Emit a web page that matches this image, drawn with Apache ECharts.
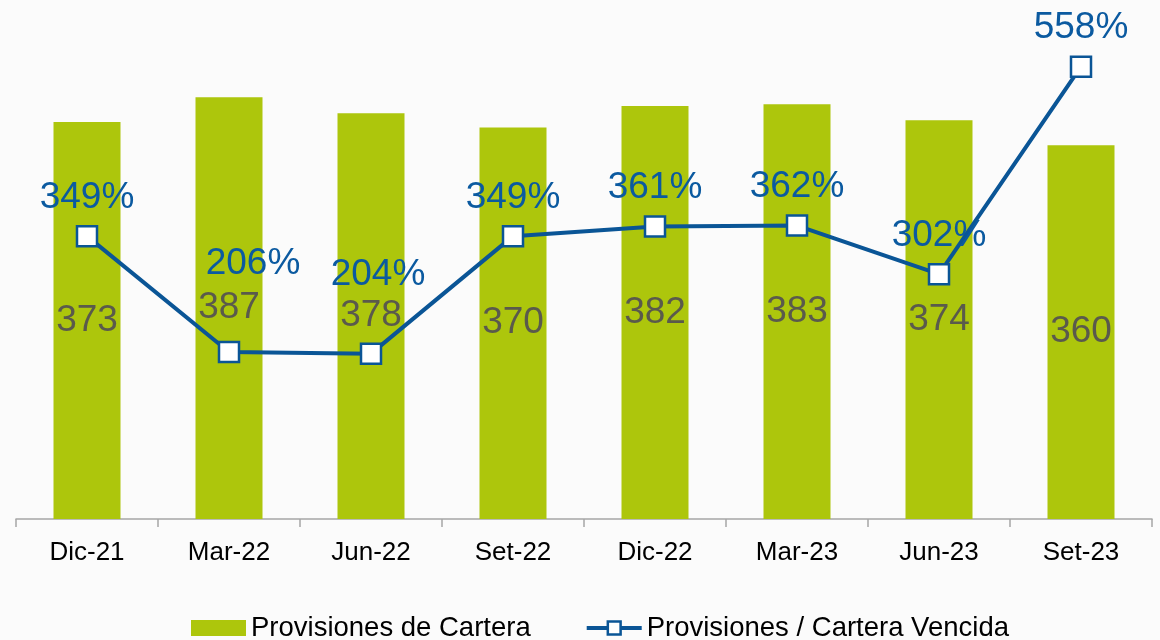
<!DOCTYPE html>
<html>
<head>
<meta charset="utf-8">
<script src="https://cdn.jsdelivr.net/npm/echarts@6/dist/echarts.min.js"></script>
<style>
  html, body { margin: 0; padding: 0; background: #fbfbfb; }
  #chart { width: 1160px; height: 640px; }
</style>
</head>
<body>
<div id="chart"></div>
<script>
// Provisiones de cartera y cobertura de cartera vencida
var categories = ['Dic-21', 'Mar-22', 'Jun-22', 'Set-22', 'Dic-22', 'Mar-23', 'Jun-23', 'Set-23'];
var provisiones = [373, 387, 378, 370, 382, 383, 374, 360];
var cobertura = [349, 206, 204, 349, 361, 362, 302, 558];

// two labels are moved up so they clear the bar labels
var labelShift = { 1: [24, -49], 2: [7, -40] };

var myChart = echarts.init(document.getElementById('chart'));
var fontFamily = '"Liberation Sans", Arial, sans-serif';

var option = {
  backgroundColor: '#fbfbfb',
  animation: false,
  grid: { left: 16, right: 8, top: 10, bottom: 121 },
  legend: {
    top: 609,
    left: 186,
    itemWidth: 55,
    itemHeight: 16,
    itemGap: 54,
    textStyle: { fontSize: 27.5, color: '#000', fontFamily: fontFamily },
    data: [
      { name: 'Provisiones de Cartera', icon: 'rect' },
      { name: 'Provisiones / Cartera Vencida', lineStyle: { width: 4 }, itemStyle: { borderWidth: 2.5 } }
    ]
  },
  xAxis: {
    type: 'category',
    data: categories,
    axisLine: { lineStyle: { color: '#a6a6a6', width: 1.5 } },
    axisTick: { show: true, alignWithLabel: false, length: 8, lineStyle: { color: '#a6a6a6', width: 1.5 } },
    axisLabel: { fontSize: 26, color: '#000', margin: 21, fontFamily: fontFamily }
  },
  yAxis: [
    { type: 'value', min: 150, max: 436, show: false, splitLine: { show: false } },
    { type: 'value', min: 0, max: 628, show: false, splitLine: { show: false } }
  ],
  series: [
    {
      name: 'Provisiones de Cartera',
      type: 'bar',
      yAxisIndex: 0,
      barWidth: 67,
      itemStyle: { color: '#adc60c' },
      label: {
        show: true,
        position: 'inside',
        fontSize: 37,
        color: '#5a5a4c',
        fontFamily: fontFamily
      },
      data: provisiones
    },
    {
      name: 'Provisiones / Cartera Vencida',
      type: 'line',
      yAxisIndex: 1,
      symbol: 'rect',
      symbolSize: 20,
      lineStyle: { color: '#0a5596', width: 4 },
      itemStyle: { color: '#ffffff', borderColor: '#0a5596', borderWidth: 2.5 },
      label: {
        show: true,
        position: 'top',
        distance: 9,
        fontSize: 37,
        color: '#0b5aa0',
        fontFamily: fontFamily,
        formatter: '{c}%'
      },
      data: cobertura.map(function (v, i) {
        return labelShift[i] ? { value: v, label: { offset: labelShift[i] } } : v;
      })
    }
  ]
};
myChart.setOption(option);
</script>
</body>
</html>
